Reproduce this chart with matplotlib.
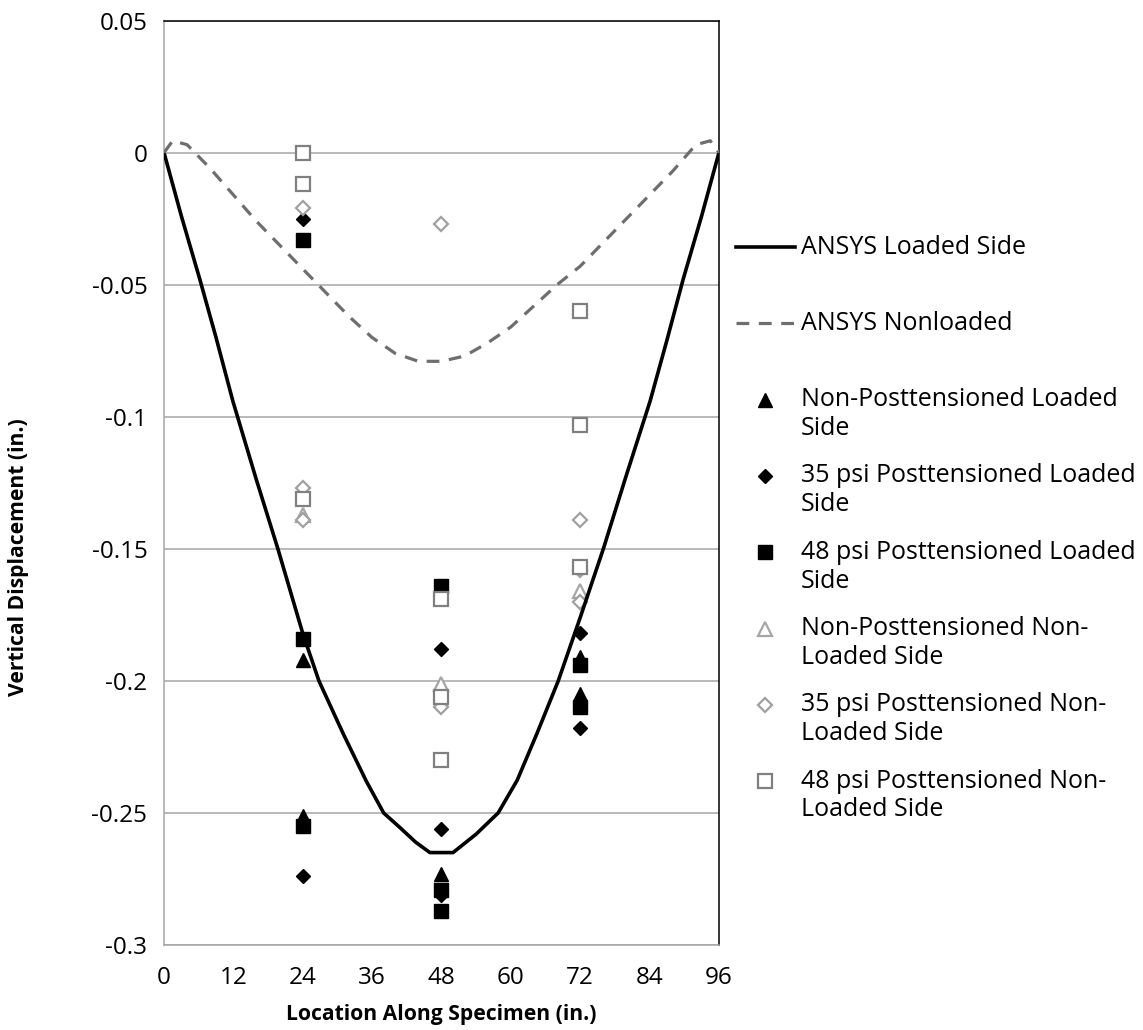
import matplotlib
matplotlib.use("Agg")
import matplotlib.pyplot as plt
import matplotlib.transforms as mtransforms
from matplotlib.legend_handler import HandlerLine2D

plt.rcParams["font.family"] = ["Open Sans", "DejaVu Sans"]

# ANSYS model curves
ansys_loaded_x = [0, 3, 6.2, 9, 11.9, 16, 19.7, 24, 26.8, 31, 35, 38, 40.8, 43.5, 46, 50, 54, 57.8,
                  61.1, 64.5, 68.2, 72, 76, 80, 84.1, 87, 89.8, 93, 96]
ansys_loaded_y = [0, -0.024, -0.048, -0.07, -0.094, -0.124, -0.15, -0.182, -0.2, -0.22, -0.238, -0.25,
                  -0.2555, -0.261, -0.265, -0.265, -0.258, -0.25, -0.2376, -0.22, -0.2, -0.176, -0.15,
                  -0.122, -0.094, -0.071, -0.048, -0.024, 0]

ansys_nonloaded_x = [0, 1.5, 4, 8, 12, 16, 20, 24, 28, 32, 36, 40, 44, 48, 52, 56, 60, 64, 68, 72, 76, 80,
                     84, 88, 92, 94.5, 96]
ansys_nonloaded_y = [0, 0.0045, 0.003, -0.006, -0.016, -0.026, -0.035, -0.044, -0.053, -0.062, -0.070,
                     -0.076, -0.079, -0.079, -0.077, -0.072, -0.066, -0.058, -0.050, -0.043, -0.034,
                     -0.025, -0.016, -0.007, 0.003, 0.0045, 0]

# measured displacements
npt_loaded_x = [24, 24, 48, 72, 72]
npt_loaded_y = [-0.192, -0.251, -0.273, -0.191, -0.205]

psi35_loaded_x = [24, 24, 48, 48, 48, 72, 72]
psi35_loaded_y = [-0.025, -0.274, -0.188, -0.256, -0.281, -0.182, -0.218]

psi48_loaded_x = [24, 24, 24, 48, 48, 48, 72, 72]
psi48_loaded_y = [-0.033, -0.184, -0.255, -0.164, -0.279, -0.287, -0.194, -0.210]

npt_nonloaded_x = [24, 48, 72]
npt_nonloaded_y = [-0.137, -0.201, -0.166]

psi35_nonloaded_x = [24, 24, 24, 48, 48, 72, 72, 72]
psi35_nonloaded_y = [-0.021, -0.127, -0.139, -0.027, -0.210, -0.139, -0.158, -0.170]

psi48_nonloaded_x = [24, 24, 24, 48, 48, 48, 72, 72, 72]
psi48_nonloaded_y = [0.0, -0.012, -0.131, -0.169, -0.206, -0.230, -0.060, -0.103, -0.157]

xticks = [0, 12, 24, 36, 48, 60, 72, 84, 96]
yticks = [0.05, 0, -0.05, -0.1, -0.15, -0.2, -0.25, -0.3]
ytick_labels = ["0.05", "0", "-0.05", "-0.1", "-0.15", "-0.2", "-0.25", "-0.3"]


class RaisedHandler(HandlerLine2D):
    # put the legend key on the first line of a two-line label
    def __init__(self, shift, **kw):
        super().__init__(**kw)
        self.shift = shift

    def create_artists(self, legend, orig_handle, xdescent, ydescent, width, height, fontsize, trans):
        trans = trans + mtransforms.ScaledTranslation(0, self.shift / 72, legend.figure.dpi_scale_trans)
        return super().create_artists(legend, orig_handle, xdescent, ydescent, width, height, fontsize, trans)


fig = plt.figure(figsize=(11.43, 10.30), dpi=100)
ax = fig.add_axes([0.1435, 0.0825, 0.4855, 0.8975])

h_loaded, = ax.plot(ansys_loaded_x, ansys_loaded_y, color="black", lw=2.6, zorder=4)
h_nonloaded, = ax.plot(ansys_nonloaded_x, ansys_nonloaded_y, color="#6e6e6e", lw=2.3,
                       dashes=(4, 3), zorder=4)

h1, = ax.plot(npt_loaded_x, npt_loaded_y, ls="none", marker="^", ms=10.5, color="black", zorder=3)
h2, = ax.plot(psi35_loaded_x, psi35_loaded_y, ls="none", marker="D", ms=7.5, color="black", zorder=3)
h3, = ax.plot(psi48_loaded_x, psi48_loaded_y, ls="none", marker="s", ms=10, color="black", zorder=3)
h4, = ax.plot(npt_nonloaded_x, npt_nonloaded_y, ls="none", marker="^", ms=10, mfc="white",
              mec="#a6a6a6", mew=1.6, zorder=3)
h5, = ax.plot(psi35_nonloaded_x, psi35_nonloaded_y, ls="none", marker="D", ms=7.5, mfc="white",
              mec="#a0a0a0", mew=1.6, zorder=3)
h6, = ax.plot(psi48_nonloaded_x, psi48_nonloaded_y, ls="none", marker="s", ms=10, mfc="white",
              mec="#808080", mew=1.6, zorder=3)

ax.set_xlim(0, 96)
ax.set_ylim(-0.3, 0.05)
ax.set_xticks(xticks)
ax.set_yticks(yticks)
ax.set_yticklabels(ytick_labels)
ax.tick_params(length=0, labelsize=17.5)
ax.tick_params(axis="y", pad=12)
ax.tick_params(axis="x", pad=15)
ax.grid(axis="y", color="#a6a6a6", lw=1.1)
ax.set_axisbelow(True)
for s in ["left", "bottom"]:
    ax.spines[s].set_color("#a6a6a6")
    ax.spines[s].set_linewidth(1.1)
for s in ["top", "right"]:
    ax.spines[s].set_color("black")
    ax.spines[s].set_linewidth(1.1)

ax.set_xlabel("Location Along Specimen (in.)", fontsize=15.2, fontweight="bold")
ax.set_ylabel("Vertical Displacement (in.)", fontsize=15.2, fontweight="bold")
ax.xaxis.set_label_coords(0.5, -0.064)
ax.yaxis.set_label_coords(-0.244, 0.42)

handles = [h_loaded, h_nonloaded, h1, h2, h3, h4, h5, h6]
labels = ["ANSYS Loaded Side\n ", "ANSYS Nonloaded\n ",
          "Non-Posttensioned Loaded\nSide", "35 psi Posttensioned Loaded\nSide",
          "48 psi Posttensioned Loaded\nSide", "Non-Posttensioned Non-\nLoaded Side",
          "35 psi Posttensioned Non-\nLoaded Side", "48 psi Posttensioned Non-\nLoaded Side"]
hmap = {h: RaisedHandler(10.8) for h in handles}
fig.legend(handles, labels, loc="upper left", bbox_to_anchor=(0.635, 0.782), frameon=False,
           fontsize=18, handlelength=2.35, handletextpad=0.25, labelspacing=0.9,
           handler_map=hmap, borderaxespad=0)

fig.savefig("out.png", dpi=100)
